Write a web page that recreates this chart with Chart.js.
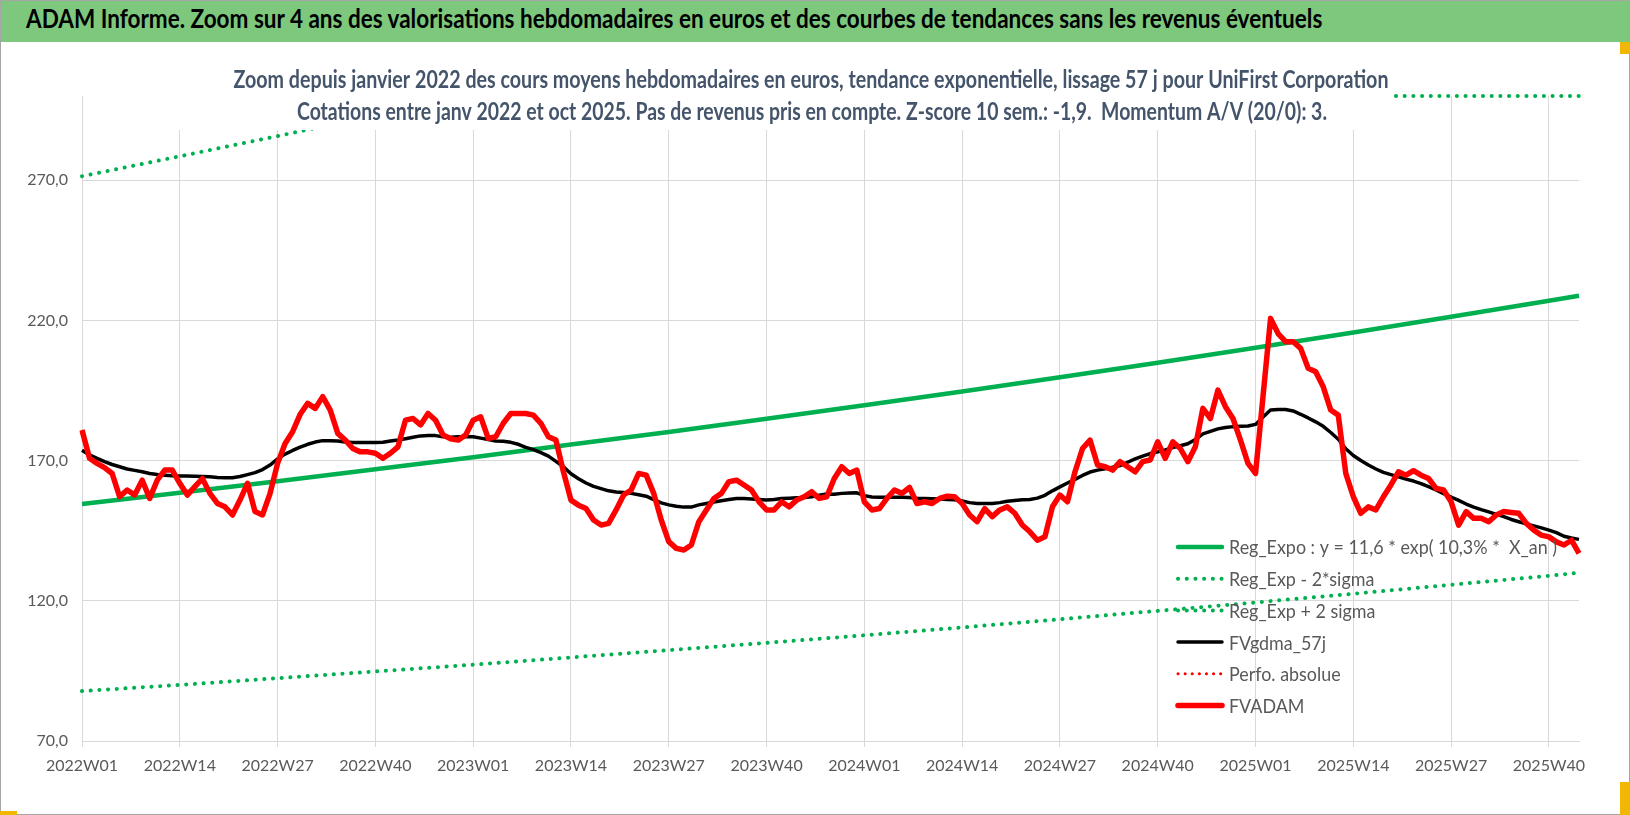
<!DOCTYPE html>
<html lang="fr">
<head>
<meta charset="utf-8">
<title>ADAM Informe - UniFirst Corporation</title>
<script src="https://cdn.jsdelivr.net/npm/chart.js@4.4.1/dist/chart.umd.min.js"></script>
<style>
  html, body { margin: 0; padding: 0; background: #fff; }
  #wrap { position: relative; width: 1630px; height: 815px; overflow: hidden; background: #fff; }
  #head { position: absolute; left: 0; top: 0; width: 1630px; height: 42px; background: #7ec87e; z-index: 2; }
  #headText { position: absolute; left: 26px; top: 2px; line-height: 42px; font: bold 26px Lato, "Open Sans", sans-serif;
              color: #000; white-space: nowrap; transform-origin: left center; }
  #box { position: absolute; left: 0; top: 0; width: 1630px; height: 815px; }
  #frame { position: absolute; left: 0; top: 0; width: 1628px; height: 813px; border: 1px solid #a6a6a6; pointer-events: none; z-index: 3; }
  .mark { position: absolute; background: #f2b705; z-index: 4; }
</style>
</head>
<body>
<div id="wrap">
  <div id="box"><canvas id="adamChart"></canvas></div>
  <div id="head"><span id="headText">ADAM Informe. Zoom sur 4 ans des valorisations hebdomadaires en euros et des courbes de tendances sans les revenus éventuels</span></div>
  <div id="frame"></div>
  <div class="mark" style="left:1620px; top:42px; width:10px; height:12px;"></div>
  <div class="mark" style="left:1620px; top:782px; width:10px; height:33px;"></div>
  <div class="mark" style="left:0; top:811px; width:17px; height:4px;"></div>
</div>
<script>
// Semaines ISO affichées (2022W01 .. 2025W44)
const weekCounts = { 2022: 52, 2023: 52, 2024: 52, 2025: 44 };
const weeks = [];
for (const [year, n] of Object.entries(weekCounts)) {
    for (let w = 1; w <= n; w++) weeks.push(year + 'W' + String(w).padStart(2, '0'));
}

const tickLabels = ['2022W01', '2022W14', '2022W27', '2022W40', '2023W01', '2023W14', '2023W27', '2023W40',
    '2024W01', '2024W14', '2024W27', '2024W40', '2025W01', '2025W14', '2025W27', '2025W40'];
const yTicks = [70, 120, 170, 220, 270];

// FVADAM : cours moyens hebdomadaires
const fvAdam = [
    180.9, 170.8, 169.0, 167.5, 165.4, 157.1, 159.5, 157.7, 163.0, 156.5,
    163.0, 166.6, 166.6, 161.9, 157.7, 160.7, 163.6, 158.3, 154.7, 153.5,
    150.6, 155.9, 161.9, 151.8, 150.6, 158.3, 169.0, 176.1, 180.3, 186.5,
    190.4, 188.6, 192.8, 188.0, 179.7, 177.3, 174.3, 173.1, 173.1, 172.6,
    170.8, 172.6, 174.9, 184.4, 185.0, 182.7, 186.8, 184.4, 179.1, 177.8,
    177.3, 179.1, 184.4, 185.6, 177.9, 178.5, 183.3, 186.8, 186.8, 186.8,
    186.2, 183.3, 178.5, 177.3, 166.0, 155.9, 154.1, 152.9, 148.8, 147.0,
    147.6, 152.4, 157.7, 159.5, 165.4, 164.8, 158.3, 148.8, 141.1, 138.7,
    138.1, 139.9, 148.2, 152.4, 156.5, 158.3, 162.5, 163.0, 161.3, 159.5,
    155.3, 152.4, 152.4, 155.3, 153.5, 155.9, 157.1, 158.9, 156.5, 157.1,
    163.6, 167.8, 165.4, 166.6, 155.3, 152.4, 152.9, 156.5, 159.5, 158.3,
    160.4, 154.7, 155.3, 154.7, 156.5, 157.3, 157.1, 154.7, 150.6, 148.2,
    152.9, 150.0, 152.4, 153.5, 151.2, 147.0, 144.6, 141.6, 142.8, 153.5,
    157.7, 155.3, 166.0, 174.3, 177.3, 168.4, 167.8, 166.6, 169.6, 167.8,
    166.0, 169.6, 170.2, 176.7, 170.8, 176.7, 174.3, 169.6, 174.9, 188.6,
    185.0, 195.1, 189.2, 185.0, 177.3, 169.0, 165.4, 193.0, 220.7, 215.3,
    212.4, 212.4, 210.0, 202.9, 201.7, 196.3, 188.0, 186.2, 165.4, 157.1,
    151.2, 153.5, 152.4, 157.1, 161.3, 166.0, 164.8, 166.4, 164.8, 163.6,
    160.1, 159.5, 155.3, 147.0, 151.8, 149.4, 149.4, 148.2, 150.6, 151.8,
    151.5, 151.2, 147.6, 145.2, 143.4, 142.8, 141.0, 139.9, 141.6, 136.9
];

// FVgdma_57j : moyenne lissée
const fvGdma = [
    173.7, 172.0, 170.8, 169.6, 168.6, 167.8, 167.0, 166.5, 166.0, 165.4,
    165.0, 164.8, 164.6, 164.5, 164.5, 164.4, 164.3, 164.2, 164.0, 163.9,
    163.9, 164.3, 165.0, 165.7, 166.8, 168.4, 170.6, 172.3, 173.6, 174.8,
    175.8, 176.6, 177.1, 177.1, 177.0, 176.6, 176.4, 176.4, 176.4, 176.4,
    176.5, 177.0, 177.3, 177.8, 178.3, 178.8, 178.9, 178.9, 178.5, 178.3,
    178.5, 178.5, 178.5, 178.0, 177.5, 177.0, 176.9, 176.5, 175.8, 174.7,
    173.9, 172.8, 171.6, 169.7, 167.8, 165.3, 163.5, 162.0, 160.8, 160.0,
    159.2, 158.8, 158.6, 158.3, 157.8, 157.3, 156.1, 154.9, 154.2, 153.7,
    153.4, 153.4, 154.2, 154.7, 155.2, 155.7, 156.1, 156.5, 156.5, 156.3,
    156.1, 155.9, 156.1, 156.5, 156.6, 156.7, 156.8, 157.1, 157.6, 158.1,
    158.0, 158.3, 158.4, 158.5, 157.5, 157.0, 156.9, 156.9, 156.9, 156.9,
    156.8, 156.6, 156.5, 156.4, 156.3, 156.1, 156.0, 155.6, 155.0, 154.7,
    154.7, 154.7, 155.0, 155.5, 155.8, 156.0, 156.1, 156.6, 157.6, 159.2,
    160.6, 162.0, 163.3, 164.7, 165.9, 166.6, 167.1, 167.6, 168.2, 169.4,
    170.6, 171.6, 172.5, 173.1, 173.8, 174.6, 175.3, 176.0, 177.5, 179.5,
    180.4, 181.3, 181.8, 182.1, 182.2, 182.3, 182.9, 185.5, 188.0, 188.2,
    188.2, 187.7, 186.5, 185.2, 183.8, 182.2, 180.0, 177.6, 174.2, 171.8,
    170.0, 168.4, 167.0, 165.8, 165.0, 164.2, 163.4, 162.7, 161.8, 160.7,
    159.5, 158.2, 157.0, 155.8, 154.5, 153.4, 152.5, 151.7, 150.8, 150.0,
    149.0, 148.2, 147.4, 146.7, 146.0, 145.2, 144.3, 143.0, 142.4, 141.9
];

// Tendance exponentielle et bandes +/- 2 sigma, relevées aux graduations
const trendAt = [...tickLabels, '2025W44'];
const regExpo = [154.5, 158.5, 162.6, 166.9, 171.2, 175.7, 180.2, 184.9, 189.7, 194.6, 199.7, 204.9, 210.2, 215.7, 221.3, 227.0, 228.8];
const regLow = [87.8, 90.0, 92.4, 94.8, 97.2, 99.8, 102.4, 105.0, 107.7, 110.5, 113.4, 116.4, 119.4, 122.5, 125.7, 128.9, 130.0];
const highAt = ['2022W01', '2022W14', '2022W27', '2022W40', '2022W51', '2025W44'];
const regHigh = [271.4, 278.5, 285.7, 293.2, 300.0, 300.0];

const GREEN = '#00b050';
const TXT = '#595959';

const pts = (at, vals) => at.map((w, i) => ({ x: w, y: vals[i] }));

// Titre condensé à la largeur voulue (police type Calibri)
const head = document.getElementById('headText');
head.style.transform = 'scaleX(' + (1296 / head.offsetWidth) + ')';

function fitText(ctx, text, x, y, targetW, align) {
    const w = ctx.measureText(text).width;
    ctx.save();
    ctx.translate(x, y);
    ctx.scale(targetW / w, 1);
    ctx.textAlign = align;
    ctx.textBaseline = 'middle';
    ctx.fillText(text, 0, 0);
    ctx.restore();
}

const overlay = {
    id: 'overlay',
    afterDatasetsDraw(chart) {
        const ctx = chart.ctx;
        // cadre blanc du sous-titre
        ctx.save();
        ctx.fillStyle = '#fff';
        ctx.fillRect(120, 42, 1270, 88);
        ctx.fillStyle = '#44546a';
        ctx.font = 'bold 25px Lato, "Open Sans", sans-serif';
        fitText(ctx, 'Zoom depuis janvier 2022 des cours moyens hebdomadaires en euros, tendance exponentielle, lissage 57 j pour UniFirst Corporation', 811, 80, 1155, 'center');
        fitText(ctx, 'Cotations entre janv 2022 et oct 2025. Pas de revenus pris en compte. Z-score 10 sem.: -1,9.  Momentum A/V (20/0): 3.', 812, 112, 1030, 'center');

        // légende
        ctx.font = '20px Lato, "Open Sans", sans-serif';
        const first = chart.data.datasets[0].label;
        const k = 328 / ctx.measureText(first).width;
        chart.data.datasets.forEach((ds, i) => {
            const y = 547 + i * 31.7;
            ctx.save();
            ctx.strokeStyle = ds.borderColor;
            ctx.lineWidth = ds.borderWidth;
            ctx.lineCap = 'round';
            ctx.setLineDash(ds.borderDash || []);
            ctx.beginPath();
            ctx.moveTo(1178, y);
            ctx.lineTo(1222, y);
            ctx.stroke();
            ctx.restore();
            ctx.fillStyle = TXT;
            const w = ctx.measureText(ds.label).width;
            fitText(ctx, ds.label, 1229, y + 1, w * k, 'left');
        });
        ctx.restore();
    }
};

new Chart(document.getElementById('adamChart'), {
    type: 'line',
    data: {
        labels: weeks,
        datasets: [
            {
                label: 'Reg_Expo : y = 11,6 * exp( 10,3% *  X_an )',
                data: pts(trendAt, regExpo),
                borderColor: GREEN, borderWidth: 4.5, order: 6
            },
            {
                label: 'Reg_Exp - 2*sigma',
                data: pts(trendAt, regLow),
                borderColor: GREEN, borderWidth: 4, borderDash: [0.1, 8.6], borderCapStyle: 'round', order: 5
            },
            {
                label: 'Reg_Exp + 2 sigma',
                data: pts(highAt, regHigh),
                borderColor: GREEN, borderWidth: 4, borderDash: [0.1, 8.6], borderCapStyle: 'round', order: 4, clip: 4
            },
            {
                label: 'FVgdma_57j',
                data: fvGdma,
                borderColor: '#000000', borderWidth: 3.5, order: 3
            },
            {
                label: 'Perfo. absolue',
                data: [],
                borderColor: '#ff0000', borderWidth: 3, borderDash: [0.1, 7], borderCapStyle: 'round', order: 2
            },
            {
                label: 'FVADAM',
                data: fvAdam,
                borderColor: '#ff0000', borderWidth: 5.5, order: 1
            }
        ]
    },
    options: {
        responsive: true,
        maintainAspectRatio: false,
        animation: false,
        events: [],
        elements: {
            point: { radius: 0 },
            line: { tension: 0, borderJoinStyle: 'round', fill: false }
        },
        layout: { padding: { top: 96, right: 51, left: 0, bottom: 0 } },
        plugins: {
            legend: { display: false },
            tooltip: { enabled: false }
        },
        scales: {
            x: {
                type: 'category',
                offset: false,
                grid: { color: '#d9d9d9', lineWidth: 1, drawTicks: true, tickLength: 6, tickColor: '#d9d9d9' },
                border: { color: '#d9d9d9' },
                ticks: {
                    autoSkip: false, maxRotation: 0, minRotation: 0, padding: 9,
                    color: TXT, font: { family: 'Lato', size: 16 },
                    callback: function (value, index) {
                        return tickLabels.includes(weeks[index]) ? weeks[index] : null;
                    }
                },
                afterFit: function (scale) { scale.height = 74; }
            },
            y: {
                min: 70,
                max: 300,
                grid: { color: '#d9d9d9', lineWidth: 1, drawTicks: false },
                border: { display: false },
                ticks: {
                    padding: 14,
                    color: TXT, font: { family: 'Lato', size: 16 },
                    callback: function (value) {
                        return value.toFixed(1).replace('.', ',');
                    }
                },
                afterBuildTicks: function (scale) {
                    scale.ticks = yTicks.map(v => ({ value: v }));
                },
                afterFit: function (scale) { scale.width = 82; }
            }
        }
    },
    plugins: [overlay]
});
</script>
</body>
</html>
